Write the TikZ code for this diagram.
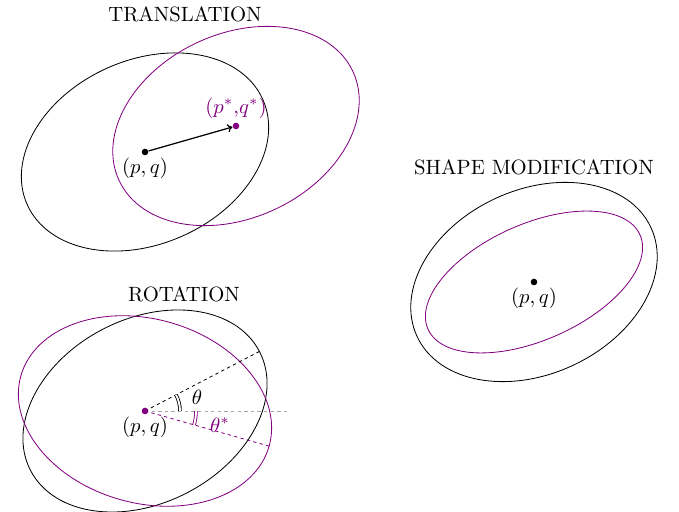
\documentclass[tikz,border=0pt]{standalone}
\usepackage{amsmath,amssymb}
\usepackage{tikz}
\usetikzlibrary{positioning,arrows.meta}
\definecolor{ppl}{RGB}{128,0,128}

\begin{document}
\begin{tikzpicture}[
  x=0.017cm, y=0.017cm,
  dot/.style={circle, fill, inner sep=0pt, minimum size=3.2pt},
  ttl/.style={font=\normalsize},
  guide/.style={dash pattern=on 1.6pt off 1.6pt},
  ang/.style={double, double distance=0.9pt, line width=0.4pt}
]
\useasboundingbox (0,0) rectangle (679,512);
% Translation
\node[ttl] (ttrans) at (185,498) {TRANSLATION};
\node[dot] (c1) at (145,360) {};
\node[dot, ppl] (c1s) at (236,386) {};
\draw (c1.center) ellipse [x radius=129, y radius=92, rotate=24];
\draw[ppl] (c1s.center) ellipse [x radius=129, y radius=92, rotate=25];
\draw[semithick, -{To[length=2.4pt,width=4pt]}] (c1) -- (c1s);
\node[below=-2.5pt of c1] (l1) {$(p,q)$};
\node[above=-1.7pt of c1s, ppl] (l1s) {$(p^*{,}q^*)$};
% Rotation
\node[ttl] (trot) at (184,218) {ROTATION};
\coordinate (c2) at (145,101);
\draw (c2) ellipse [x radius=129, y radius=92, rotate=27.5];
\draw[ppl] (c2) ellipse [x radius=129, y radius=92, rotate=-15.8];
\path (c2) ++(27.5:129) coordinate (r2);
\path (c2) ++(-15.8:129) coordinate (r2s);
\path (c2) ++(145,0) coordinate (h2);
\draw[guide, gray!70] (c2) -- (h2);
\draw[guide] (c2) -- (r2);
\draw[guide, ppl] (c2) -- (r2s);
\draw[ang] (c2) ++(35,0) arc [start angle=0, end angle=27.5, radius=35];
\draw[ang, ppl] (c2) ++(51,0) arc [start angle=0, end angle=-15.8, radius=51];
\node[dot, ppl] (d2) at (c2) {};
\node (th) at (197,115) {$\theta$};
\node[ppl] (ths) at (220,87) {$\theta^*$};
\node[below=-2.5pt of d2] (l2) {$(p,q)$};
% Shape modification
\node[ttl] (tshape) at (534,345) {SHAPE MODIFICATION};
\node[dot] (c3) at (534,230) {};
\draw (c3.center) ellipse [x radius=129, y radius=92, rotate=25];
\draw[ppl] (c3.center) ellipse [x radius=116, y radius=58, rotate=24];
\node[below=-2.5pt of c3] (l3) {$(p,q)$};
\end{tikzpicture}
\end{document}
